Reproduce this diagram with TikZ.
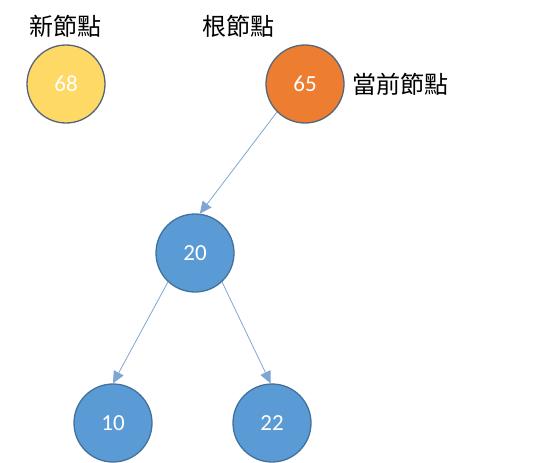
\documentclass[tikz,border=0pt]{standalone}
\usepackage{fontspec}
\setmainfont{Carlito}
\newfontfamily\cjk{Noto Sans CJK TC}
\usetikzlibrary{automata, positioning, arrows.meta}
\definecolor{nodeblue}{HTML}{5B9BD5}
\definecolor{rimblue}{HTML}{41719C}
\definecolor{nodeyellow}{HTML}{FFD966}
\definecolor{nodeorange}{HTML}{ED7D31}
\definecolor{rimgray}{HTML}{56657A}
\definecolor{linkblue}{HTML}{7FA6D3}
\tikzset{
  >={Triangle[width=11pt, length=12pt]},
  every state/.style={line width=1.3pt, draw=rimblue, fill=nodeblue, text=white,
    minimum size=78pt, inner sep=0pt, font=\fontsize{23}{25}\selectfont},
  tag/.style={font=\cjk\fontsize{24}{26}\selectfont, inner sep=0pt},
  link/.style={->, draw=linkblue, line width=0.8pt},
}

\begin{document}
\begin{tikzpicture}[x=1pt, y=-1pt]
  \useasboundingbox (0,0) rectangle (533,463);

  % nodes
  \node[state, fill=nodeyellow, draw=rimgray] (n68) at (66,84) {68};
  \node[state, fill=nodeorange, draw=rimgray] (n65) at (305,84) {65};
  \node[state] (n20) at (195,253) {20};
  \node[state] (n10) at (113,423) {10};
  \node[state] (n22) at (272,423) {22};

  % labels
  \node[tag] (newtag) at (65,26) {新節點};
  \node[tag] (roottag) at (238,26) {根節點};
  \node[tag, right=8pt of n65] (curtag) {當前節點};

  % edges
  \draw[link] (n65.225) -- (n20.83);
  \draw[link] (n20.227) -- (n10.90);
  \draw[link] (n20.313) -- (n22.92);
\end{tikzpicture}
\end{document}
